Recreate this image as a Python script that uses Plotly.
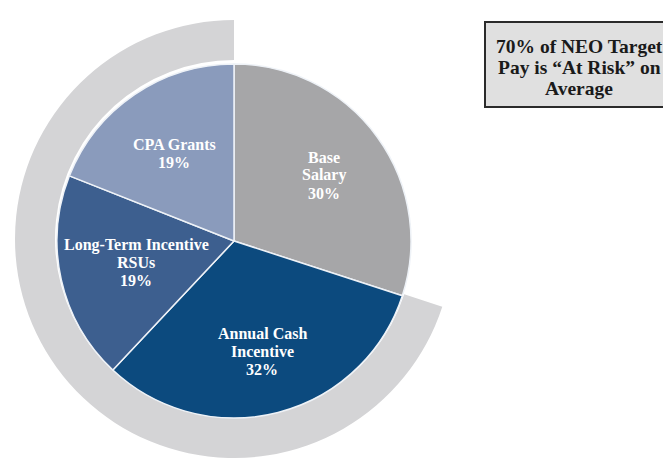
import math
import plotly.graph_objects as go

# Target pay mix (percent of total), clockwise from 12 o'clock
labels = ["Base<br>Salary", "Annual Cash<br>Incentive", "Long-Term Incentive<br>RSUs", "CPA Grants"]
shares = [30, 32, 19, 19]
slice_colors = ["#a6a6a8", "#0c4a7e", "#3d5f8f", "#8a9bbc"]

# Outer band: fixed pay vs. at-risk pay
band_labels = ["Fixed", "At Risk"]
band_values = [30, 70]

callout_lines = ["70% of NEO Target", "Pay is \u201cAt Risk\u201d on", "Average"]

W, H = 663, 458

# pie geometry in pixels
cx, cy_top = 234, 241
r_pie = 177
bx, by_top = 234, 239
r_band = 219

def dom(cx_px, cy_top_px, r):
    cy = H - cy_top_px
    return dict(x=[(cx_px - r) / W, (cx_px + r) / W],
                y=[max(0, (cy - r) / H), min(1, (cy + r) / H)])

fig = go.Figure()

fig.add_trace(go.Pie(
    labels=band_labels, values=band_values, sort=False, direction="clockwise",
    rotation=0, hole=(r_pie + 2) / r_band, domain=dom(bx, by_top, r_band),
    marker=dict(colors=["rgba(0,0,0,0)", "#d4d4d6"], line=dict(width=0)),
    textinfo="none", hoverinfo="skip", showlegend=False,
))

fig.add_trace(go.Pie(
    labels=labels, values=shares, sort=False, direction="clockwise", rotation=0,
    domain=dom(cx, cy_top, r_pie),
    marker=dict(colors=slice_colors, line=dict(color="#eef2f7", width=1.5)),
    textinfo="none", showlegend=False,
))

# slice labels placed along the mid-angle of each slice, one annotation per line
label_radius = [0.63, 0.645, 0.565, 0.60]
line_gap = 18
total = sum(shares)
start = 0.0
for lab, v, rf in zip(labels, shares, label_radius):
    mid = (start + v / 2) / total * 2 * math.pi
    start += v
    x = cx + rf * r_pie * math.sin(mid)
    y = cy_top - rf * r_pie * math.cos(mid)
    lines = lab.split("<br>") + [f"{v}%"]
    y0 = y - line_gap * (len(lines) - 1) / 2
    for i, ln in enumerate(lines):
        fig.add_annotation(
            x=x / W, y=1 - (y0 + i * line_gap) / H, xref="paper", yref="paper",
            text=f"<b>{ln}</b>", showarrow=False,
            font=dict(family="Liberation Serif", size=16, color="white"),
            xanchor="center", yanchor="middle",
        )

# callout box
fig.add_shape(type="rect", xref="paper", yref="paper",
              x0=485 / W, x1=680 / W, y0=1 - 107 / H, y1=1 - 22 / H,
              fillcolor="#e0e0e0", line=dict(color="#2b2b2b", width=2))
for i, ln in enumerate(callout_lines):
    fig.add_annotation(
        x=579 / W, y=1 - (46 + i * 21.5) / H, xref="paper", yref="paper",
        text=f"<b>{ln}</b>", showarrow=False,
        font=dict(family="Liberation Serif", size=19.5, color="#1a1a1a"),
        xanchor="center", yanchor="middle",
    )

fig.update_layout(
    width=W, height=H, margin=dict(l=0, r=0, t=0, b=0),
    paper_bgcolor="white", plot_bgcolor="white",
)

fig.write_html("out.html")
